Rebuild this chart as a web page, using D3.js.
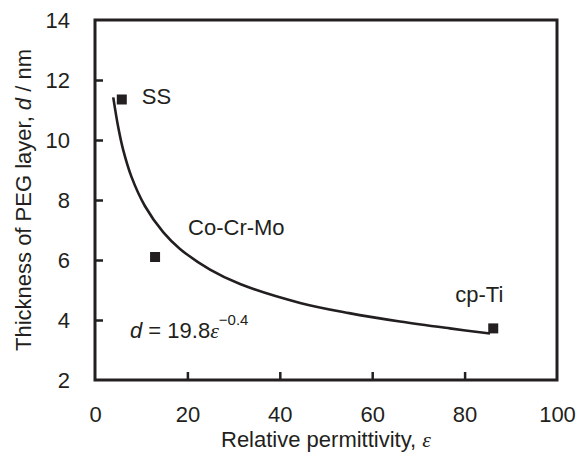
<!DOCTYPE html>
<html><head><meta charset="utf-8">
<script src="https://cdn.jsdelivr.net/npm/d3@7"></script>
<style>body{margin:0;background:#fff}svg{display:block}text{font-family:"Liberation Sans",Arial,sans-serif;fill:#231f20}</style>
</head><body><svg id="c" width="578" height="457"></svg>
<script>
// data
const materials = ["SS", "Co-Cr-Mo", "cp-Ti"];
const permittivity = [5.8, 13.0, 86.2];
const thickness = [11.35, 6.1, 3.72];
// fitted curve (d = 19.8 ε^-0.4)
const fitEps = [3.95, 5, 6.1, 7.9, 10.8, 14.8, 18.4, 24.9, 31.4, 44.4, 55, 66, 76.8, 85.5];
const fitD   = [11.42, 10.45, 9.67, 8.77, 7.8, 6.92, 6.37, 5.68, 5.2, 4.57, 4.23, 3.95, 3.72, 3.55];
const xTicks = [0, 20, 40, 60, 80, 100];
const yTicks = [2, 4, 6, 8, 10, 12, 14];
const labelOffsets = [[20, 4], [33, -22], [-38, -26]];

const svg = d3.select("#c");
const L = 95, R = 557, T = 20, B = 380;
const x = d3.scaleLinear().domain([0, 100]).range([L, R]);
const y = d3.scaleLinear().domain([2, 14]).range([B, T]);
const ink = "#231f20";
const FS = 22;

// frame
svg.append("rect").attr("x", L).attr("y", T).attr("width", R - L).attr("height", B - T)
  .attr("fill", "none").attr("stroke", ink).attr("stroke-width", 3);

// axes with inward ticks
const xa = svg.append("g").attr("transform", `translate(0,${B})`)
  .call(d3.axisBottom(x).tickValues(xTicks).tickSize(-8).tickPadding(26).tickFormat(d3.format("d")));
const ya = svg.append("g").attr("transform", `translate(${L},0)`)
  .call(d3.axisLeft(y).tickValues(yTicks).tickSize(-8).tickPadding(25).tickFormat(d3.format("d")));
[xa, ya].forEach(g => {
  g.select(".domain").remove();
  g.selectAll(".tick line").attr("stroke", ink).attr("stroke-width", 2.5);
  g.selectAll(".tick text").attr("font-size", FS).attr("fill", ink)
    .style("font-family", '"Liberation Sans", Arial, sans-serif');
});
xa.selectAll(".tick").filter(d => d === 0 || d === 100).select("line").remove();
ya.selectAll(".tick").filter(d => d === 2 || d === 14).select("line").remove();
xa.selectAll(".tick text").attr("dy", "0.71em");

// fit curve
const line = d3.line().x((d, i) => x(fitEps[i])).y(d => y(d)).curve(d3.curveCatmullRom.alpha(0.5));
svg.append("path").attr("d", line(fitD)).attr("fill", "none").attr("stroke", ink).attr("stroke-width", 2.6);

// points
svg.selectAll(".pt").data(permittivity).join("rect").attr("class", "pt")
  .attr("x", d => x(d) - 5).attr("y", (d, i) => y(thickness[i]) - 5)
  .attr("width", 10).attr("height", 10).attr("fill", ink);

// point labels
svg.selectAll(".lab").data(materials).join("text").attr("class", "lab")
  .attr("x", (d, i) => x(permittivity[i]) + labelOffsets[i][0])
  .attr("y", (d, i) => y(thickness[i]) + labelOffsets[i][1])
  .attr("font-size", FS).text(d => d);

// equation
const eq = svg.append("text").attr("x", 130).attr("y", 338).attr("font-size", FS);
eq.append("tspan").attr("font-style", "italic").text("d");
eq.append("tspan").text(" = 19.8");
eq.append("tspan").attr("font-style", "italic").style("font-family", '"Liberation Serif", serif').text("ε");
eq.append("tspan").attr("font-size", 15).attr("dy", -13).text("−0.4");

// axis titles
const xt = svg.append("text").attr("x", (L + R) / 2).attr("y", 447).attr("text-anchor", "middle").attr("font-size", FS);
xt.append("tspan").text("Relative permittivity, ");
xt.append("tspan").attr("font-style", "italic").style("font-family", '"Liberation Serif", serif').text("ε");

const yt = svg.append("text").attr("transform", `translate(31,${(T + B) / 2}) rotate(-90)`)
  .attr("text-anchor", "middle").attr("font-size", FS);
yt.append("tspan").text("Thickness of PEG layer, ");
yt.append("tspan").attr("font-style", "italic").text("d");
yt.append("tspan").text(" / nm");
</script></body></html>
